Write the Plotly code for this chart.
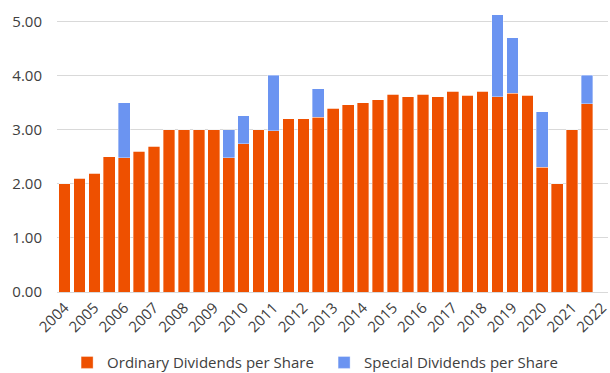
import plotly.graph_objects as go

years = [str(y) for y in range(2004, 2023)]
periods = [f"{y} H{h}" for y in range(2004, 2022) for h in (1, 2)] + ["2022 H1"]

ordinary = [2.00, 2.10, 2.20, 2.50, 2.48, 2.60, 2.70, 3.00, 3.00, 3.00, 3.00, 2.48,
            2.74, 3.00, 2.98, 3.20, 3.20, 3.23, 3.40, 3.46, 3.50, 3.56, 3.66, 3.61,
            3.66, 3.61, 3.71, 3.64, 3.71, 3.61, 3.68, 3.64, 2.31, 2.00, 3.00, 3.48]
special = [0, 0, 0, 0, 1.02, 0, 0, 0, 0, 0, 0, 0.52,
           0.52, 0, 1.03, 0, 0, 0.53, 0, 0, 0, 0, 0, 0,
           0, 0, 0, 0, 0, 1.52, 1.02, 0, 1.02, 0, 0, 0.53]

orange = "#EE5000"
blue = "#6B94F1"
font = "Open Sans"
txt = "#404040"

fig = go.Figure()
fig.add_trace(go.Bar(x=periods[:36], y=ordinary, name="Ordinary Dividends per Share",
                     marker=dict(color=orange, line=dict(color="rgba(255,255,255,0.45)", width=0.8))))
fig.add_trace(go.Bar(x=periods[:36], y=special, name="Special Dividends per Share",
                     marker=dict(color=blue, line=dict(color="rgba(255,255,255,0.45)", width=0.8))))

fig.update_layout(
    barmode="stack",
    bargap=0.22,
    width=610, height=373,
    margin=dict(l=57, r=0, t=0, b=81),
    paper_bgcolor="white", plot_bgcolor="white",
    font=dict(family=font, size=15, color=txt),
    showlegend=True,
    legend=dict(orientation="h", xref="container", yref="container",
                x=0.11, xanchor="left", y=0.072, yanchor="top",
                entrywidth=212, entrywidthmode="pixels",
                font=dict(family=font, size=15, color=txt), traceorder="normal"),
)
fig.update_xaxes(type="category", categoryorder="array", categoryarray=periods,
                 range=[-0.5, 36.4], tickmode="array", tickvals=periods[0::2], ticktext=years,
                 tickangle=-45, showgrid=False, showline=True, linecolor="#d9d9d9", linewidth=1.3,
                 ticks="", tickfont=dict(family=font, size=15, color=txt))
fig.update_yaxes(range=[0, 5.4], dtick=1, tick0=0, tickformat=".2f", showgrid=True,
                 gridcolor="#d9d9d9", gridwidth=1.3, zeroline=False, showline=False,
                 ticks="", ticklabelstandoff=14, tickfont=dict(family=font, size=15, color=txt))

fig.write_html("out.html")
